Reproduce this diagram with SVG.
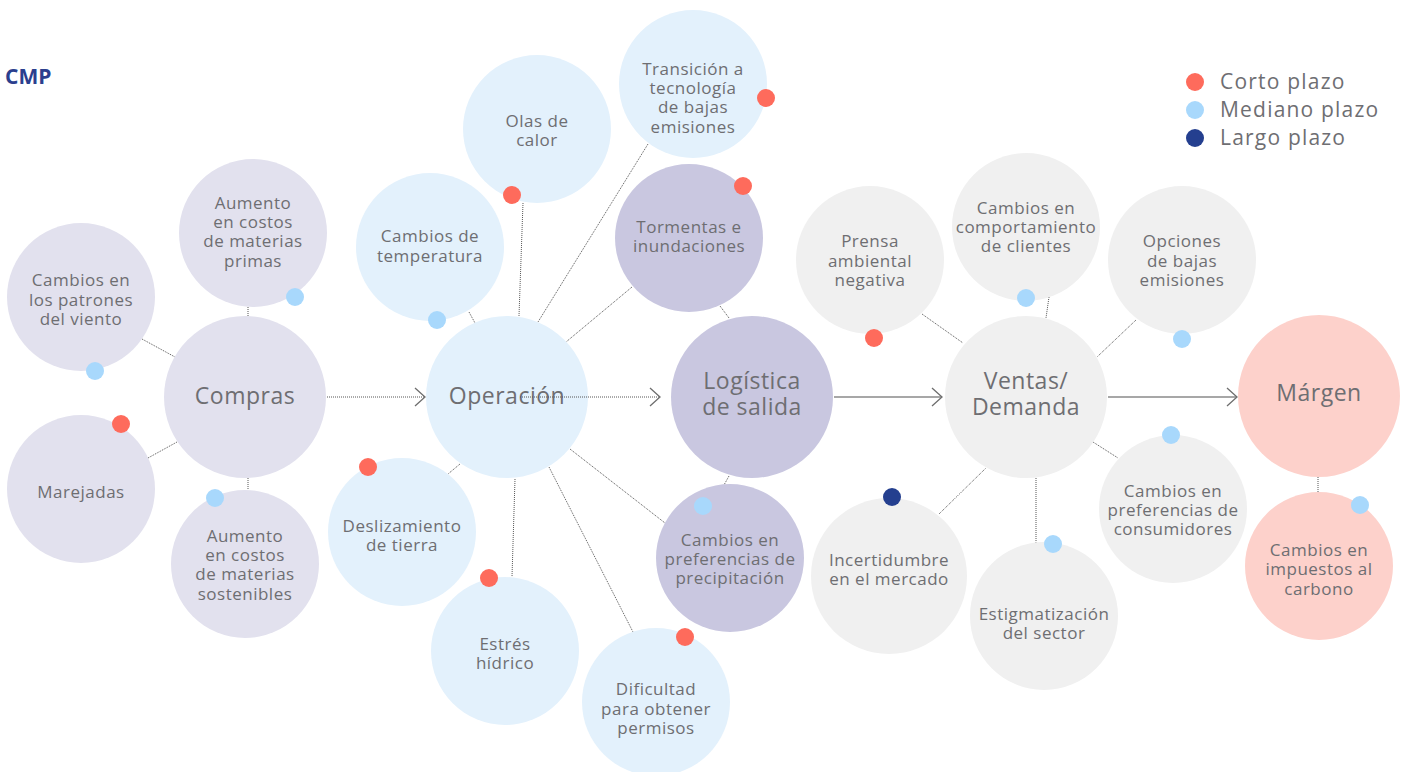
<svg xmlns="http://www.w3.org/2000/svg" width="1407" height="772" viewBox="0 0 1407 772">
<style>
  .t { font-family: "Open Sans", "Liberation Sans", sans-serif; font-size: 17px; fill: #6e6e72; text-anchor: middle; letter-spacing: 0.5px; }
  .big { font-family: "Open Sans", "Liberation Sans", sans-serif; font-size: 23px; fill: #6e6e72; text-anchor: middle; letter-spacing: 0.5px; }
  .leg { font-family: "Open Sans", "Liberation Sans", sans-serif; font-size: 21px; fill: #6e6e72; letter-spacing: 1.2px; }
  .cmp { font-family: "Open Sans", "Liberation Sans", sans-serif; font-size: 21px; font-weight: 700; fill: #2b3f8e; }
  .lav { fill: #e2e1ee; }
  .blu { fill: #e3f1fc; }
  .pur { fill: #c9c7e0; }
  .gry { fill: #f0f0f0; }
  .pnk { fill: #fdd1cb; }
  .dr { fill: #fe6b5c; }
  .db { fill: #a8d8fc; }
  .dn { fill: #243f8f; }
  .dot { stroke: #555; stroke-width: 1; stroke-dasharray: 1 1; fill: none; }
  .sol { stroke: #8a8a8a; stroke-width: 1.5; fill: none; }
</style>
<defs>
  <marker id="chev" markerUnits="userSpaceOnUse" markerWidth="14" markerHeight="22" refX="11" refY="10" orient="auto">
    <path d="M1,1 L11,10 L1,19" fill="none" stroke="#6e6e6e" stroke-width="1.3"/>
  </marker>
</defs>

<text class="cmp" x="5" y="84">CMP</text>

<g id="legend">
  <circle class="dr" cx="1195" cy="82" r="9"/>
  <text class="leg" x="1220" y="89">Corto plazo</text>
  <circle class="db" cx="1195" cy="110" r="9"/>
  <text class="leg" x="1220" y="117">Mediano plazo</text>
  <circle class="dn" cx="1195" cy="138" r="9"/>
  <text class="leg" x="1220" y="145">Largo plazo</text>
</g>

<g id="connectors">
  <line class="dot" x1="142" y1="339" x2="175" y2="357"/>
  <line class="dot" x1="248" y1="307" x2="248" y2="316"/>
  <line class="dot" x1="148" y1="458" x2="177" y2="442"/>
  <line class="dot" x1="248" y1="478" x2="248" y2="490"/>
  <line class="dot" x1="469" y1="312" x2="475" y2="323"/>
  <line class="dot" x1="523" y1="203" x2="519" y2="316"/>
  <line class="dot" x1="648" y1="144" x2="538" y2="322"/>
  <line class="dot" x1="632" y1="287" x2="566" y2="342"/>
  <line class="dot" x1="460" y1="464" x2="448" y2="474"/>
  <line class="dot" x1="515" y1="479" x2="512" y2="577"/>
  <line class="dot" x1="549" y1="467" x2="633" y2="632"/>
  <line class="dot" x1="570" y1="449" x2="665" y2="523"/>
  <line class="dot" x1="720" y1="306" x2="729" y2="318"/>
  <line class="dot" x1="729" y1="476" x2="724" y2="485"/>
  <line class="dot" x1="922" y1="314" x2="963" y2="343"/>
  <line class="dot" x1="1049" y1="297" x2="1046" y2="318"/>
  <line class="dot" x1="1136" y1="320" x2="1097" y2="357"/>
  <line class="dot" x1="1093" y1="442" x2="1118" y2="458"/>
  <line class="dot" x1="939" y1="514" x2="986" y2="468"/>
  <line class="dot" x1="1036" y1="478" x2="1036" y2="543"/>
  <line class="dot" x1="1318" y1="477" x2="1318" y2="492"/>
</g>

<g id="n-compras"><circle class="lav" cx="245" cy="397" r="81"/><text class="big" x="245" y="404">Compras</text></g>
<g id="n-viento"><circle class="lav" cx="81" cy="297" r="74"/>
  <text class="t" x="81" y="286">Cambios en</text><text class="t" x="81" y="306">los patrones</text><text class="t" x="81" y="325">del viento</text>
  <circle class="db" cx="95" cy="371" r="9"/></g>
<g id="n-primas"><circle class="lav" cx="253" cy="233" r="74"/>
  <text class="t" x="253" y="209">Aumento</text><text class="t" x="253" y="228">en costos</text><text class="t" x="253" y="247">de materias</text><text class="t" x="253" y="267">primas</text>
  <circle class="db" cx="295" cy="297" r="9"/></g>
<g id="n-marejadas"><circle class="lav" cx="81" cy="489" r="74"/>
  <text class="t" x="81" y="498">Marejadas</text>
  <circle class="dr" cx="121" cy="424" r="9"/></g>
<g id="n-sostenibles"><circle class="lav" cx="245" cy="564" r="74"/>
  <text class="t" x="245" y="542">Aumento</text><text class="t" x="245" y="561">en costos</text><text class="t" x="245" y="580">de materias</text><text class="t" x="245" y="600">sostenibles</text>
  <circle class="db" cx="215" cy="498" r="9"/></g>

<g id="n-operacion"><circle class="blu" cx="507" cy="397" r="81"/><text class="big" x="507" y="404">Operación</text></g>
<g id="n-temperatura"><circle class="blu" cx="430" cy="247" r="74"/>
  <text class="t" x="430" y="242">Cambios de</text><text class="t" x="430" y="262">temperatura</text>
  <circle class="db" cx="437" cy="320" r="9"/></g>
<g id="n-olas"><circle class="blu" cx="537" cy="129" r="74"/>
  <text class="t" x="537" y="127">Olas de</text><text class="t" x="537" y="146">calor</text>
  <circle class="dr" cx="512" cy="195" r="9"/></g>
<g id="n-transicion"><circle class="blu" cx="693" cy="84" r="74"/>
  <text class="t" x="693" y="75">Transición a</text><text class="t" x="693" y="94">tecnología</text><text class="t" x="693" y="113">de bajas</text><text class="t" x="693" y="133">emisiones</text>
  <circle class="dr" cx="766" cy="98" r="9"/></g>
<g id="n-deslizamiento"><circle class="blu" cx="402" cy="532" r="74"/>
  <text class="t" x="402" y="532">Deslizamiento</text><text class="t" x="402" y="551">de tierra</text>
  <circle class="dr" cx="368" cy="467" r="9"/></g>
<g id="n-estres"><circle class="blu" cx="505" cy="651" r="74"/>
  <text class="t" x="505" y="650">Estrés</text><text class="t" x="505" y="669">hídrico</text>
  <circle class="dr" cx="489" cy="578" r="9"/></g>
<g id="n-dificultad"><circle class="blu" cx="656" cy="702" r="74"/>
  <text class="t" x="656" y="695">Dificultad</text><text class="t" x="656" y="715">para obtener</text><text class="t" x="656" y="734">permisos</text>
  <circle class="dr" cx="685" cy="637" r="9"/></g>

<g id="n-logistica"><circle class="pur" cx="752" cy="397" r="81"/>
  <text class="big" x="752" y="389">Logística</text><text class="big" x="752" y="415">de salida</text></g>
<g id="n-tormentas"><circle class="pur" cx="689" cy="238" r="74"/>
  <text class="t" x="689" y="233">Tormentas e</text><text class="t" x="689" y="252">inundaciones</text>
  <circle class="dr" cx="743" cy="186" r="9"/></g>
<g id="n-precipitacion"><circle class="pur" cx="730" cy="558" r="74"/>
  <text class="t" x="730" y="546">Cambios en</text><text class="t" x="730" y="565">preferencias de</text><text class="t" x="730" y="584">precipitación</text>
  <circle class="db" cx="703" cy="506" r="9"/></g>

<g id="n-ventas"><circle class="gry" cx="1026" cy="397" r="81"/>
  <text class="big" x="1026" y="389">Ventas/</text><text class="big" x="1026" y="415">Demanda</text></g>
<g id="n-prensa"><circle class="gry" cx="870" cy="260" r="74"/>
  <text class="t" x="870" y="247">Prensa</text><text class="t" x="870" y="267">ambiental</text><text class="t" x="870" y="286">negativa</text>
  <circle class="dr" cx="874" cy="338" r="9"/></g>
<g id="n-comportamiento"><circle class="gry" cx="1026" cy="227" r="74"/>
  <text class="t" x="1026" y="214">Cambios en</text><text class="t" x="1026" y="233">comportamiento</text><text class="t" x="1026" y="252">de clientes</text>
  <circle class="db" cx="1026" cy="298" r="9"/></g>
<g id="n-opciones"><circle class="gry" cx="1182" cy="260" r="74"/>
  <text class="t" x="1182" y="247">Opciones</text><text class="t" x="1182" y="267">de bajas</text><text class="t" x="1182" y="286">emisiones</text>
  <circle class="db" cx="1182" cy="339" r="9"/></g>
<g id="n-consumidores"><circle class="gry" cx="1173" cy="509" r="74"/>
  <text class="t" x="1173" y="497">Cambios en</text><text class="t" x="1173" y="516">preferencias de</text><text class="t" x="1173" y="535">consumidores</text>
  <circle class="db" cx="1171" cy="435" r="9"/></g>
<g id="n-incertidumbre"><circle class="gry" cx="889" cy="576" r="78"/>
  <text class="t" x="889" y="566">Incertidumbre</text><text class="t" x="889" y="585">en el mercado</text>
  <circle class="dn" cx="892" cy="497" r="9"/></g>
<g id="n-estigmatizacion"><circle class="gry" cx="1044" cy="616" r="74"/>
  <text class="t" x="1044" y="620">Estigmatización</text><text class="t" x="1044" y="639">del sector</text>
  <circle class="db" cx="1053" cy="544" r="9"/></g>

<g id="n-margen"><circle class="pnk" cx="1319" cy="396" r="81"/>
  <text class="big" x="1319" y="401">Márgen</text></g>
<g id="n-impuestos"><circle class="pnk" cx="1319" cy="566" r="74"/>
  <text class="t" x="1319" y="556">Cambios en</text><text class="t" x="1319" y="575">impuestos al</text><text class="t" x="1319" y="595">carbono</text>
  <circle class="db" cx="1360" cy="505" r="9"/></g>

<g id="flow-arrows">
  <line class="dot" x1="327" y1="397" x2="425" y2="397" marker-end="url(#chev)"/>
  <line class="dot" x1="520" y1="397" x2="660" y2="397" marker-end="url(#chev)"/>
  <line class="sol" x1="834" y1="397" x2="942" y2="397" marker-end="url(#chev)"/>
  <line class="sol" x1="1108" y1="397" x2="1237" y2="397" marker-end="url(#chev)"/>
</g>
</svg>
